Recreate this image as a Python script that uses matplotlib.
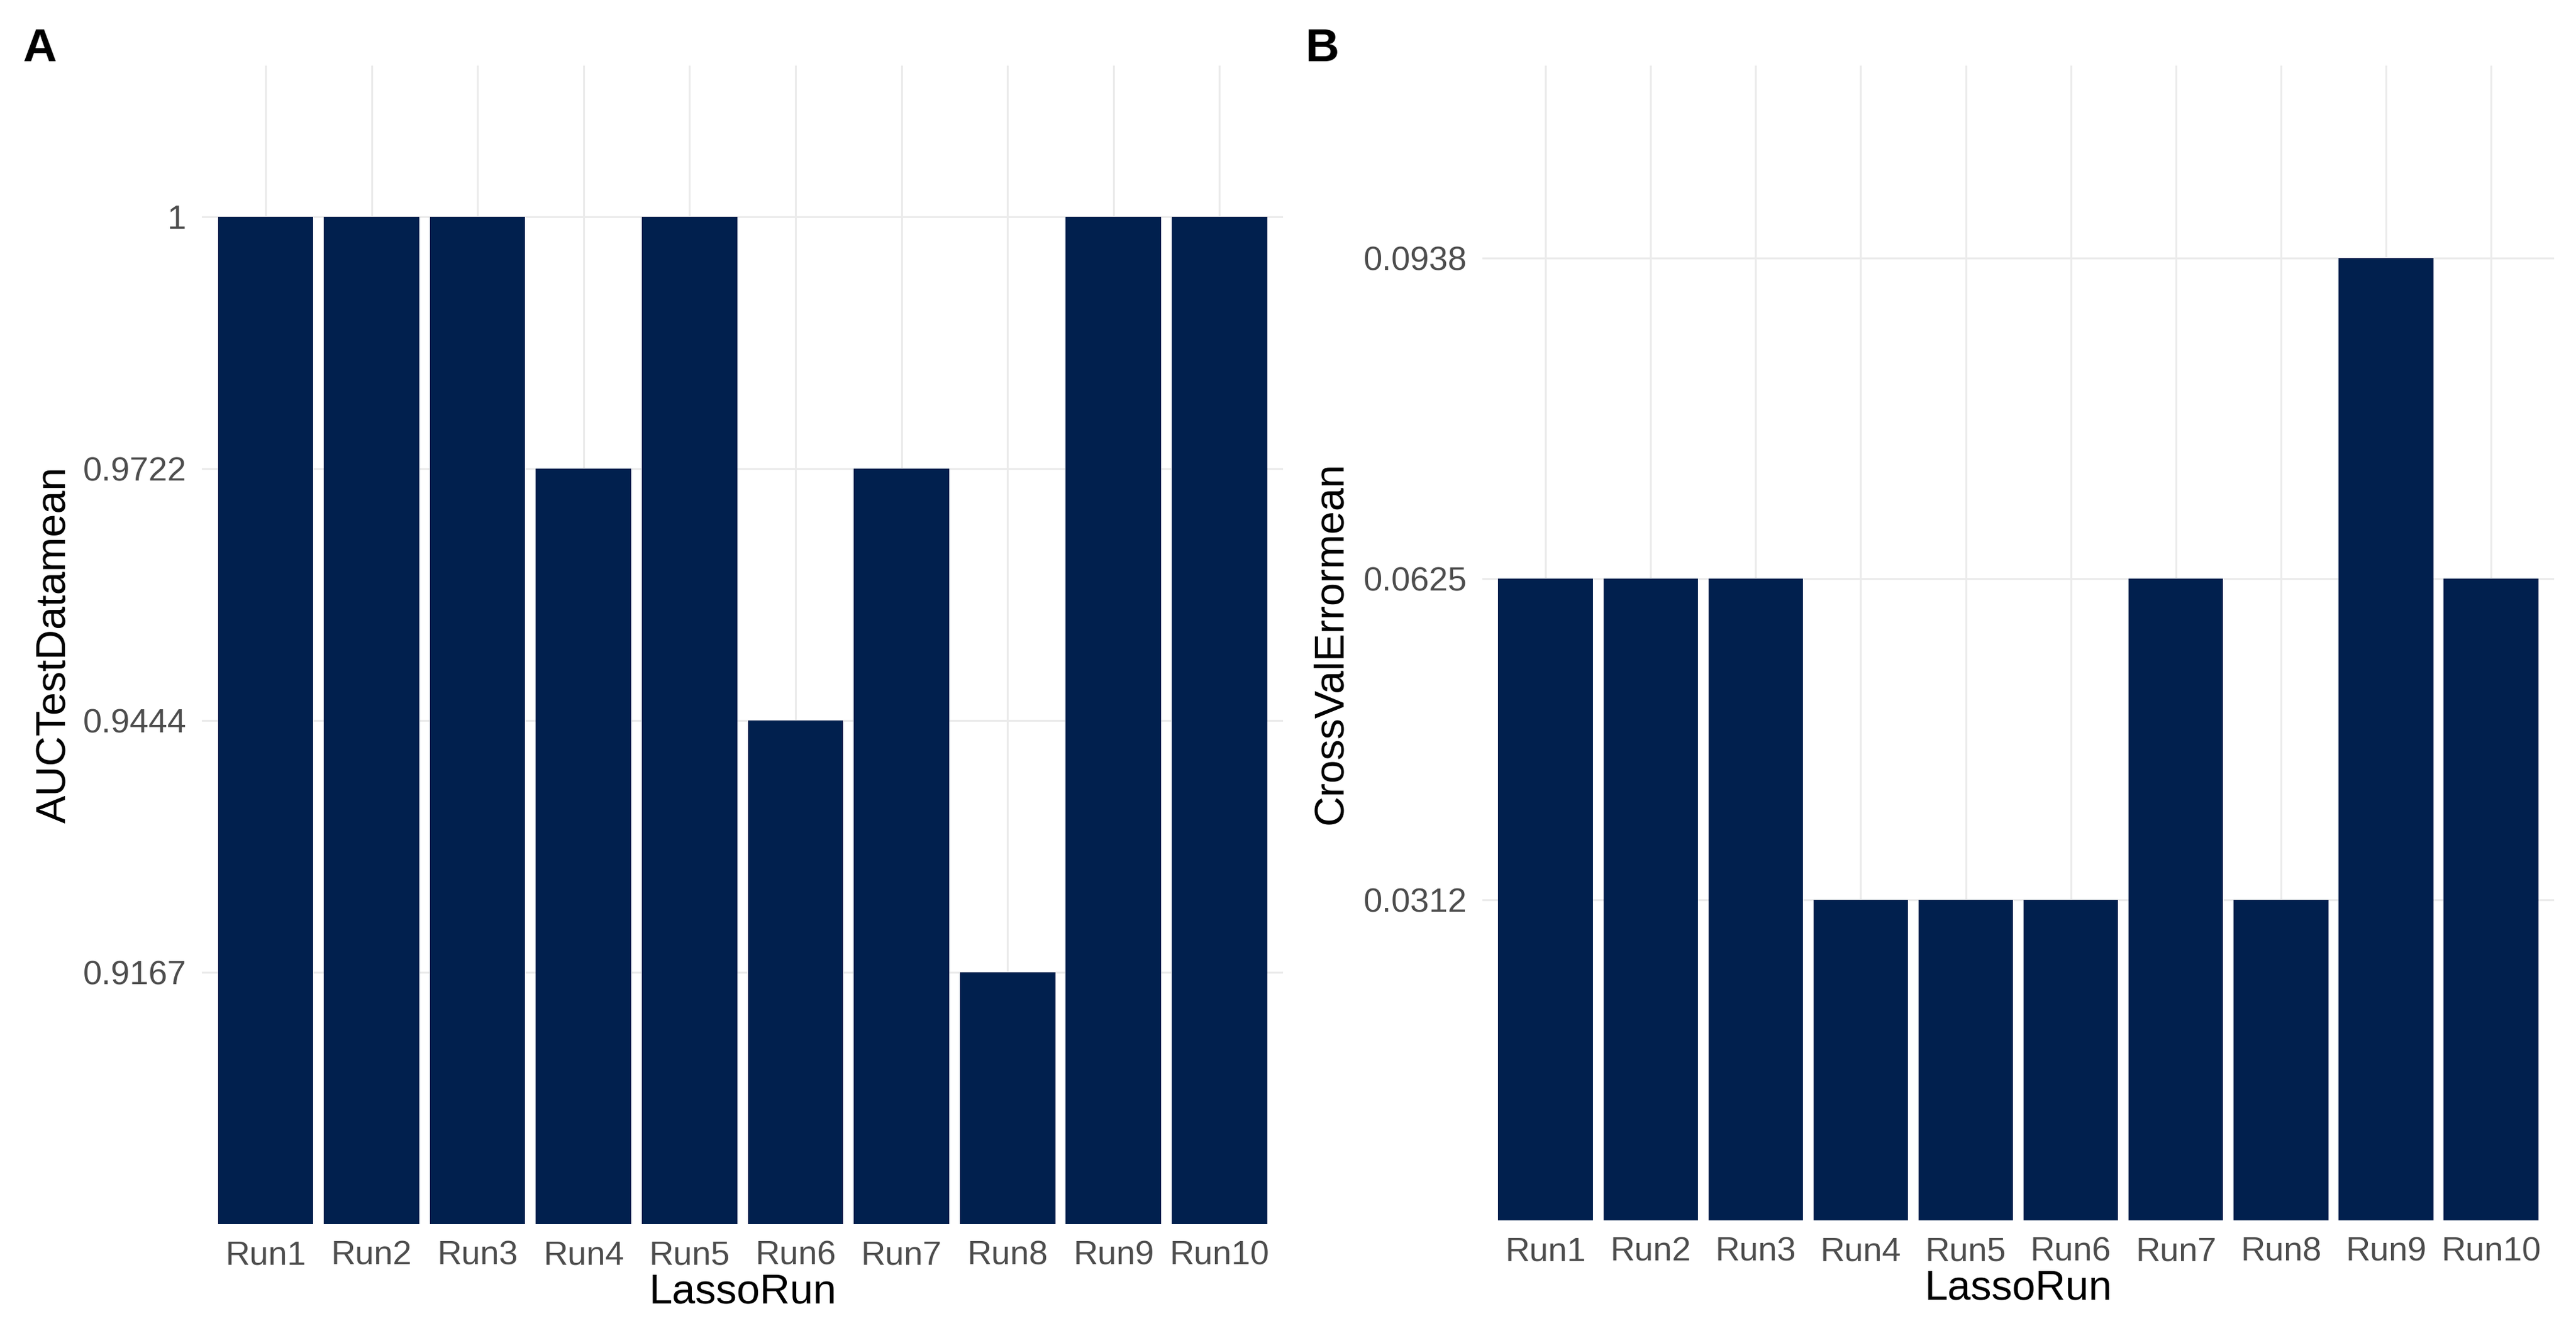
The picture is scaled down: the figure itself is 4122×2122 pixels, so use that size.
import matplotlib
matplotlib.use("Agg")
import matplotlib.pyplot as plt

# ---- data ----
runs = ["Run1", "Run2", "Run3", "Run4", "Run5", "Run6", "Run7", "Run8", "Run9", "Run10"]
auc_test_mean = [1, 1, 1, 0.9722, 1, 0.9444, 0.9722, 0.9167, 1, 1]
cv_error_mean = [0.0625, 0.0625, 0.0625, 0.0312, 0.0312, 0.0312, 0.0625, 0.0312, 0.0938, 0.0625]

plt.rcParams['font.family'] = ['Liberation Sans', 'DejaVu Sans']

BAR = "#01204E"
GRID = "#EBEBEB"
TICKC = "#4D4D4D"

fig = plt.figure(figsize=(20.61, 10.61), dpi=200)
fig.patch.set_facecolor("white")


def panel(rect, values, ylabel, letter, letter_xy, ylab_x):
    ax = fig.add_axes(rect)
    # discrete y scale: each distinct value is a level
    levels = sorted(set(values))
    pos = [levels.index(v) + 1 for v in values]
    x = list(range(len(runs)))
    ax.set_axisbelow(True)
    ax.bar(x, pos, width=0.9, color=BAR, zorder=3)
    ax.set_xlim(-0.6, len(runs) - 1 + 0.6)
    ax.set_ylim(0, len(levels) + 0.6)
    ax.set_xticks(x)
    ax.set_xticklabels(runs)
    ax.set_yticks(range(1, len(levels) + 1))
    ax.set_yticklabels(["%g" % v for v in levels])
    ax.grid(True, color=GRID, linewidth=1.1, zorder=0)
    for s in ax.spines.values():
        s.set_visible(False)
    ax.tick_params(length=0, labelsize=19.5, labelcolor=TICKC, pad=9)
    ax.set_xlabel("LassoRun", fontsize=24, color="black")
    ax.set_ylabel(ylabel, fontsize=24, color="black")
    ax.xaxis.set_label_coords(0.5, -0.059)
    ax.yaxis.set_label_coords(ylab_x, 0.5)
    ax.xaxis.label.set_va("center")
    ax.yaxis.label.set_va("center")
    fig.text(letter_xy[0], letter_xy[1], letter, fontsize=27, fontweight="bold",
             ha="center", va="center", color="black")
    return ax


panel([0.0784, 0.0768, 0.4197, 0.8737], auc_test_mean, "AUCTestDatamean", "A",
      (63 / 4122, 1 - 79 / 2122), -0.136)
panel([0.5755, 0.0796, 0.4160, 0.8709], cv_error_mean, "CrossValErrormean", "B",
      (2116 / 4122, 1 - 79 / 2122), -0.141)

fig.savefig("out.png", dpi=200, facecolor="white")
